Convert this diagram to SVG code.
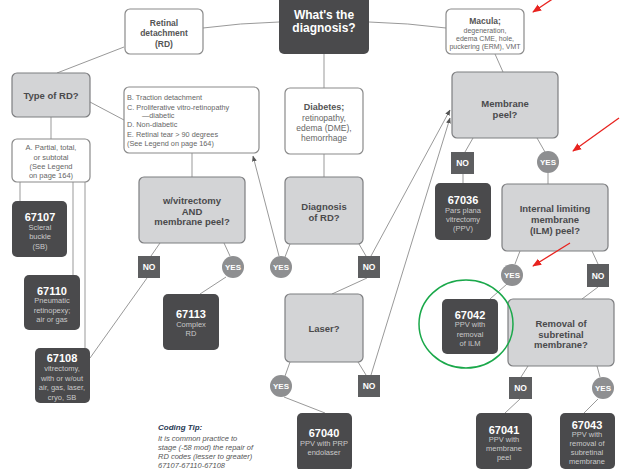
<svg xmlns="http://www.w3.org/2000/svg" width="621" height="469" viewBox="0 0 621 469">
<defs>
<marker id="ah" viewBox="0 0 10 10" refX="9" refY="5" markerWidth="6" markerHeight="6" orient="auto" markerUnits="userSpaceOnUse"><path d="M0,1 L10,5 L0,9 z" fill="#555"/></marker>
<marker id="red" viewBox="0 0 10 10" refX="9" refY="5" markerWidth="9" markerHeight="9" orient="auto" markerUnits="userSpaceOnUse"><path d="M0,1 L10,5 L0,9 z" fill="#e8231f"/></marker>
<style>
text{font-family:"Liberation Sans",Arial,sans-serif;text-anchor:middle}
.white{fill:#fff;stroke:#8a8a8a;stroke-width:1.2}
.light{fill:#d3d4d6;stroke:#7d7e80;stroke-width:1.2}
.dark{fill:#4a4a4c}
.no{fill:#5d5e60}
.yes{fill:#8e8f91}
.lbl{font-weight:bold;font-size:8.5px;fill:#fff}
.qt{font-weight:bold;font-size:9.5px;fill:#4a4a4c}
.wt{font-size:7.5px;fill:#666}
.wb{font-weight:bold;font-size:8.5px;fill:#555}
.code{font-weight:bold;font-size:11px;fill:#fff}
.desc{font-size:7.5px;fill:#c9c9c9}
.tip{font-style:italic;font-size:7.5px;fill:#555;text-anchor:start}
#connectors path{fill:none;stroke:#999;stroke-width:1}
</style>
</defs>
<rect width="621" height="469" fill="#fff"/>

<g id="connectors">
<path d="M203,28 Q240,23 279,22"/>
<path d="M369,22 Q408,23 446,28"/>
<path d="M124,47 L57,73"/>
<path d="M90,102 L124,120"/>
<path d="M51,117 V139"/>
<path d="M20,182 V201"/>
<path d="M73,182 V275"/>
<path d="M85,182 V348"/>
<path d="M192,153 V177"/>
<path d="M160,243 L151,256"/>
<path d="M147,278 L90,358"/>
<path d="M224,243 L230,256"/>
<path d="M226,277 L200,294"/>
<path d="M279,256 L253,156" marker-end="url(#ah)"/>
<path d="M324,54 V88"/>
<path d="M324,154 V177"/>
<path d="M290,244 L285,257"/>
<path d="M359,244 L366,256"/>
<path d="M367,278 L332,294"/>
<path d="M371,256 L450,110" marker-end="url(#ah)"/>
<path d="M371,375 L450,118" marker-end="url(#ah)"/>
<path d="M290,362 L285,376"/>
<path d="M358,362 L366,375"/>
<path d="M284,397 L325,413"/>
<path d="M495,54 L503,72"/>
<path d="M473,138 L465,152"/>
<path d="M463,174 V183"/>
<path d="M537,138 L545,152"/>
<path d="M548,173 V184"/>
<path d="M520,251 L515,264"/>
<path d="M592,251 L598,264"/>
<path d="M507,284 L490,299"/>
<path d="M598,287 L582,299"/>
<path d="M528,366 L521,377"/>
<path d="M597,366 L600,377"/>
<path d="M520,399 L505,413"/>
<path d="M598,399 L584,413"/>
</g>

<g id="diagnosis"><rect x="279" y="-6" width="90" height="60" rx="5" class="dark"/>
<text x="324" y="18.5" style="font-weight:bold;font-size:12px;fill:#fff">What's the</text>
<text x="324" y="32" style="font-weight:bold;font-size:12px;fill:#fff">diagnosis?</text></g>

<g id="rd"><rect x="125" y="9" width="78" height="45" rx="5" class="white"/>
<text x="164" y="26" class="wb">Retinal</text><text x="164" y="36" class="wb">detachment</text><text x="164" y="47" class="wb">(RD)</text></g>

<g id="macula"><rect x="446" y="9" width="78" height="45" rx="5" class="white"/>
<text x="485" y="24" class="wb">Macula;</text>
<text x="485" y="32.5" style="font-size:7px;fill:#666">degeneration,</text>
<text x="485" y="40.5" style="font-size:7px;fill:#666">edema CME, hole,</text>
<text x="485" y="48.5" style="font-size:7px;fill:#666">puckering (ERM), VMT</text></g>

<g id="type"><rect x="12" y="73" width="78" height="44" rx="5" class="light"/>
<text x="51" y="99" class="qt">Type of RD?</text></g>

<g id="bbox"><rect x="124" y="87" width="135" height="66" rx="5" class="white"/>
<g style="font-size:7.3px;fill:#666">
<text x="127" y="100" style="text-anchor:start">B.  Traction detachment</text>
<text x="127" y="109.5" style="text-anchor:start">C.  Proliferative vitro-retinopathy</text>
<text x="142" y="118" style="text-anchor:start">—diabetic</text>
<text x="127" y="127" style="text-anchor:start">D.  Non-diabetic</text>
<text x="127" y="136.5" style="text-anchor:start">E.    Retinal tear &gt; 90 degrees</text>
<text x="127" y="146" style="text-anchor:start">(See Legend on page 164)</text></g></g>

<g id="diabetes"><rect x="285" y="88" width="78" height="66" rx="5" class="white"/>
<text x="324" y="110" style="font-weight:bold;font-size:9px;fill:#555">Diabetes;</text>
<text x="324" y="121" style="font-size:8.5px;fill:#666">retinopathy,</text>
<text x="324" y="131" style="font-size:8.5px;fill:#666">edema (DME),</text>
<text x="324" y="141" style="font-size:8.5px;fill:#666">hemorrhage</text></g>

<g id="abox"><rect x="12" y="139" width="78" height="43" rx="5" class="white"/>
<text x="51" y="150" class="wt">A. Partial, total,</text><text x="51" y="159.5" class="wt">or subtotal</text>
<text x="51" y="169" class="wt">(See Legend</text><text x="51" y="178" class="wt">on page 164)</text></g>

<g id="c67107"><rect x="12" y="201" width="55" height="56" rx="5" class="dark"/>
<text x="40" y="221" class="code">67107</text><text x="40" y="230" class="desc">Scleral</text><text x="40" y="239" class="desc">buckle</text><text x="40" y="249" class="desc">(SB)</text></g>

<g id="c67110"><rect x="24" y="275" width="56" height="55" rx="5" class="dark"/>
<text x="52" y="295" class="code">67110</text><text x="52" y="303" class="desc">Pneumatic</text><text x="52" y="313" class="desc">retinopexy;</text><text x="52" y="322" class="desc">air or gas</text></g>

<g id="c67108"><rect x="35" y="348" width="55" height="55" rx="5" class="dark"/>
<text x="62" y="362" class="code">67108</text><text x="62" y="371" class="desc">vitrectomy,</text><text x="62" y="381" class="desc">with or w/out</text><text x="62" y="390" class="desc">air, gas, laser,</text><text x="62" y="400" class="desc">cryo, SB</text></g>

<g id="wvit"><rect x="139" y="177" width="106" height="66" rx="5" class="light"/>
<text x="192" y="204" class="qt">w/vitrectomy</text><text x="192" y="214.5" class="qt">AND</text><text x="192" y="225" class="qt">membrane peel?</text></g>

<g id="wvit-no"><rect x="138" y="256" width="22" height="22" class="no"/><text x="149" y="270" class="lbl">NO</text></g>
<g id="wvit-yes"><circle cx="233" cy="267" r="11" class="yes"/><text x="233" y="270" class="lbl" style="font-size:8px">YES</text></g>

<g id="c67113"><rect x="163" y="294" width="56" height="56" rx="5" class="dark"/>
<text x="191" y="318" class="code">67113</text><text x="191" y="327" class="desc">Complex</text><text x="191" y="336" class="desc">RD</text></g>

<g id="diagrd"><rect x="285" y="177" width="78" height="67" rx="5" class="light"/>
<text x="324" y="210" class="qt">Diagnosis</text><text x="324" y="220.5" class="qt">of RD?</text></g>
<g id="diagrd-yes"><circle cx="281" cy="267" r="11" class="yes"/><text x="281" y="270" class="lbl" style="font-size:8px">YES</text></g>
<g id="diagrd-no"><rect x="358" y="256" width="22" height="22" class="no"/><text x="369" y="270" class="lbl">NO</text></g>

<g id="laser"><rect x="285" y="294" width="78" height="68" rx="5" class="light"/>
<text x="324" y="332" class="qt">Laser?</text></g>
<g id="laser-yes"><circle cx="281" cy="386" r="11" class="yes"/><text x="281" y="389" class="lbl" style="font-size:8px">YES</text></g>
<g id="laser-no"><rect x="358" y="375" width="22" height="22" class="no"/><text x="369" y="389" class="lbl">NO</text></g>

<g id="c67040"><rect x="297" y="413" width="55" height="58" rx="5" class="dark"/>
<text x="324" y="437" class="code">67040</text><text x="324" y="446" class="desc">PPV with PRP</text><text x="324" y="455" class="desc">endolaser</text></g>

<g id="tip">
<text x="158" y="430" class="tip" style="font-weight:bold;fill:#2b3a55;font-size:8px">Coding Tip:</text>
<text x="158" y="441" class="tip">It is common practice to</text>
<text x="158" y="450" class="tip">stage (-58 mod) the repair of</text>
<text x="158" y="459" class="tip">RD codes (lesser to greater)</text>
<text x="158" y="468" class="tip">67107-67110-67108</text></g>

<g id="membrane"><rect x="452" y="72" width="106" height="66" rx="5" class="light"/>
<text x="505" y="107" class="qt">Membrane</text><text x="505" y="118" class="qt">peel?</text></g>
<g id="mem-no"><rect x="451" y="152" width="23" height="22" class="no"/><text x="462.5" y="166" class="lbl">NO</text></g>
<g id="mem-yes"><circle cx="548" cy="162" r="11" class="yes"/><text x="548" y="165" class="lbl" style="font-size:8px">YES</text></g>

<g id="c67036"><rect x="435" y="183" width="56" height="57" rx="5" class="dark"/>
<text x="463" y="204" class="code">67036</text><text x="463" y="213" class="desc">Pars plana</text><text x="463" y="222" class="desc">vitrectomy</text><text x="463" y="231" class="desc">(PPV)</text></g>

<g id="ilm"><rect x="502" y="184" width="106" height="67" rx="5" class="light"/>
<text x="555" y="212" class="qt">Internal limiting</text><text x="555" y="223" class="qt">membrane</text><text x="555" y="234" class="qt">(ILM) peel?</text></g>
<g id="ilm-yes"><circle cx="512" cy="275" r="11" class="yes"/><text x="512" y="278" class="lbl" style="font-size:8px">YES</text></g>
<g id="ilm-no"><rect x="587" y="264" width="22" height="23" class="no"/><text x="598" y="278.5" class="lbl">NO</text></g>

<g id="c67042"><rect x="442" y="299" width="56" height="55" rx="5" class="dark"/>
<text x="470" y="319" class="code">67042</text><text x="470" y="327" class="desc">PPV with</text><text x="470" y="337" class="desc">removal</text><text x="470" y="346" class="desc">of ILM</text></g>

<g id="removal"><rect x="508" y="299" width="106" height="67" rx="5" class="light"/>
<text x="561" y="327" class="qt">Removal of</text><text x="561" y="337.5" class="qt">subretinal</text><text x="561" y="348" class="qt">membrane?</text></g>
<g id="rem-no"><rect x="509" y="377" width="23" height="22" class="no"/><text x="520.5" y="391" class="lbl">NO</text></g>
<g id="rem-yes"><circle cx="603" cy="388" r="11" class="yes"/><text x="603" y="391" class="lbl" style="font-size:8px">YES</text></g>

<g id="c67041"><rect x="476" y="413" width="56" height="56" rx="5" class="dark"/>
<text x="504" y="434" class="code">67041</text><text x="504" y="442" class="desc">PPV with</text><text x="504" y="451" class="desc">membrane</text><text x="504" y="460" class="desc">peel</text></g>

<g id="c67043"><rect x="560" y="413" width="55" height="56" rx="5" class="dark"/>
<text x="587" y="429" class="code">67043</text><text x="587" y="437" class="desc">PPV with</text><text x="587" y="446" class="desc">removal of</text><text x="587" y="455" class="desc">subretinal</text><text x="587" y="464" class="desc">membrane</text></g>

<g id="annotations">
<ellipse cx="466" cy="324" rx="47" ry="44" fill="none" stroke="#1aa84a" stroke-width="1.5"/>
<path d="M554,-2 L533,12" fill="none" stroke="#e8231f" stroke-width="1.3" marker-end="url(#red)"/>
<path d="M619,118 L573,151" fill="none" stroke="#e8231f" stroke-width="1.3" marker-end="url(#red)"/>
<path d="M570,243 L533,266" fill="none" stroke="#e8231f" stroke-width="1.3" marker-end="url(#red)"/>
</g>
</svg>
